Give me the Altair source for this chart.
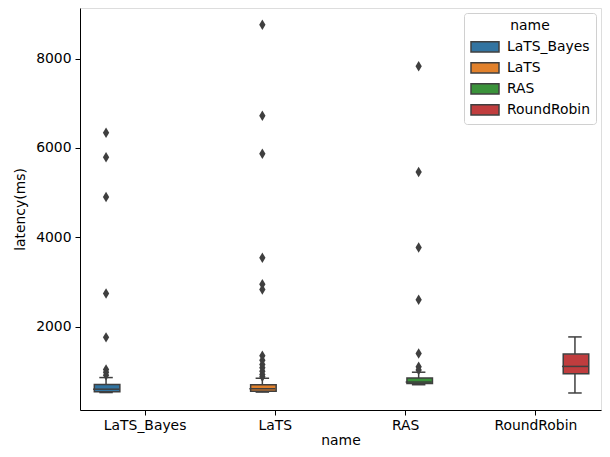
import altair as alt
import pandas as pd

names = ["LaTS_Bayes", "LaTS", "RAS", "RoundRobin"]
colors = ["#3274a1", "#e1812c", "#3a923a", "#c03d3e"]

q1 = [545, 555, 730, 945]
median = [600, 610, 760, 1110]
q3 = [705, 700, 850, 1385]
whisker_lo = [525, 535, 700, 515]
whisker_hi = [860, 845, 980, 1770]

out_lats_bayes = [6340, 5790, 4900, 2740, 1760, 1040, 980, 910]
out_lats = [8760, 6720, 5870, 3540, 2950, 2830, 1350, 1250, 1150, 1080, 1000, 930, 880]
out_ras = [7830, 5460, 3770, 2600, 1400, 1100, 1030]
out_rr = []

stats = pd.DataFrame({
    "name": names, "q1": q1, "median": median, "q3": q3,
    "lo": whisker_lo, "hi": whisker_hi,
})
outliers = pd.DataFrame(
    [{"name": "LaTS_Bayes", "v": v} for v in out_lats_bayes]
    + [{"name": "LaTS", "v": v} for v in out_lats]
    + [{"name": "RAS", "v": v} for v in out_ras]
    + [{"name": "RoundRobin", "v": v} for v in out_rr]
)

GRAY = "#3f3f3f"
FONT = "DejaVu Sans"
FS = 13.9

x_enc = alt.X("name:N", sort=names,
              scale=alt.Scale(domain=names, paddingInner=0, paddingOuter=0),
              axis=alt.Axis(title="name", labelAngle=0, tickSize=5, tickColor="black",
                            domainColor="black", labelFontSize=FS, titleFontSize=FS,
                            titleFontWeight="normal", labelColor="black", titleColor="black",
                            labelPadding=3, titlePadding=2, labelFont=FONT, titleFont=FONT))
xo_enc = alt.XOffset("name:N", sort=names,
                     scale=alt.Scale(domain=names, paddingInner=0, paddingOuter=0.5))
yscale = alt.Scale(domain=[134, 9134], nice=False, zero=False)
y_axis = alt.Axis(title="latency(ms)", values=[2000, 4000, 6000, 8000], grid=False,
                  tickSize=5, tickColor="black", domainColor="black", labelFontSize=FS,
                  titleFontSize=FS, titleFontWeight="normal", labelColor="black",
                  titleColor="black", labelPadding=4, titlePadding=8,
                  labelFont=FONT, titleFont=FONT, format="d")

base = alt.Chart(stats)

lower = base.mark_rule(color=GRAY, strokeWidth=1.5).encode(
    x=x_enc, xOffset=xo_enc,
    y=alt.Y("lo:Q", scale=yscale, axis=y_axis), y2="q1:Q")
upper = base.mark_rule(color=GRAY, strokeWidth=1.5).encode(
    x=x_enc, xOffset=xo_enc, y=alt.Y("q3:Q", scale=yscale), y2="hi:Q")
cap_lo = base.mark_tick(color=GRAY, size=13.5, thickness=1.5, opacity=1).encode(
    x=x_enc, xOffset=xo_enc, y=alt.Y("lo:Q", scale=yscale))
cap_hi = base.mark_tick(color=GRAY, size=13.5, thickness=1.5, opacity=1).encode(
    x=x_enc, xOffset=xo_enc, y=alt.Y("hi:Q", scale=yscale))
box = base.mark_bar(stroke=GRAY, strokeWidth=1.5, opacity=1,
                    width=alt.RelativeBandSize(0.98)).encode(
    x=x_enc, xOffset=xo_enc,
    y=alt.Y("q1:Q", scale=yscale), y2="q3:Q",
    color=alt.Color("name:N", sort=names,
                    scale=alt.Scale(domain=names, range=colors),
                    legend=alt.Legend(
                        title="name", orient="top-right", offset=5,
                        symbolType="M-1,-0.72L3,-0.72L3,0.72L-1,0.72Z",
                        symbolSize=196, symbolStrokeColor=GRAY, symbolStrokeWidth=1.5,
                        symbolOpacity=1,
                        labelFontSize=FS, titleFontSize=FS, titleFontWeight="normal",
                        labelFont=FONT, titleFont=FONT, labelColor="black",
                        titleColor="black", titleAnchor="middle",
                        rowPadding=3, padding=6, fillColor="white",
                        strokeColor="#d0d0d0", cornerRadius=3, labelOffset=21,
                        titlePadding=6)))
med = base.mark_tick(color=GRAY, size=26, thickness=1.5, opacity=1).encode(
    x=x_enc, xOffset=xo_enc, y=alt.Y("median:Q", scale=yscale))
pts = alt.Chart(outliers).mark_point(
    shape="M0,-1L0.6,0L0,1L-0.6,0Z", filled=True, color=GRAY, size=110, opacity=1
).encode(x=x_enc, xOffset=xo_enc, y=alt.Y("v:Q", scale=yscale))

chart = alt.layer(lower, upper, cap_lo, cap_hi, box, med, pts).properties(
    width=521, height=402,
    autosize=alt.AutoSizeParams(type="none"),
    padding={"left": 72, "top": 0, "right": 1, "bottom": 39},
).configure_view(stroke="black", strokeWidth=1).configure(background="white")

chart.save("out.html", embed_options={"renderer": "svg", "actions": False})
